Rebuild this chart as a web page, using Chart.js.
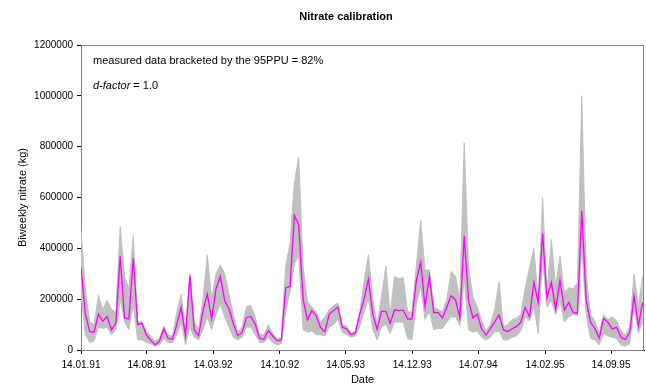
<!DOCTYPE html>
<html>
<head>
<meta charset="utf-8">
<script src="https://cdn.jsdelivr.net/npm/chart.js@4.4.0/dist/chart.umd.min.js"></script>
<style>
  html, body { margin: 0; padding: 0; background: #fff; }
  #wrap { width: 646px; height: 385px; }
</style>
</head>
<body>
<div id="wrap"><canvas id="nitrateChart" width="646" height="385"></canvas></div>
<script>
// ===== NITRATE CALIBRATION =====

// --- DATA ---
// biweekly values (kg), first value on 14.01.91
const START_DATE = '14.01.91';
const STEP_DAYS = 14;

const xTickLabels = ['14.01.91', '14.08.91', '14.03.92', '14.10.92', '14.05.93',
                     '14.12.93', '14.07.94', '14.02.95', '14.09.95'];
const yTickValues = [0, 200000, 400000, 600000, 800000, 1000000, 1200000];

// simulated nitrate (magenta line)
const simulated = [
  325000, 141000, 73000, 70000, 141000, 113000, 132000, 79000, 105000, 369000,
  126000, 122000, 362000, 100000, 105000, 59000, 39000, 20000, 34000, 83000,
  46000, 42000, 100000, 168000, 56000, 292000, 79000, 56000, 154000, 220000,
  122000, 240000, 290000, 194000, 161000, 102000, 56000, 69000, 128000, 131000,
  102000, 47000, 42000, 76000, 56000, 37000, 39000, 244000, 250000, 530000,
  491000, 200000, 118000, 155000, 135000, 89000, 72000, 141000, 155000, 168000,
  89000, 83000, 60000, 67000, 141000, 200000, 279000, 141000, 81000, 152000,
  152000, 105000, 158000, 155000, 157000, 122000, 122000, 272000, 346000, 170000,
  290000, 147000, 147000, 126000, 168000, 214000, 197000, 126000, 449000, 194000,
  126000, 141000, 83000, 59000, 83000, 111000, 138000, 79000, 73000, 83000,
  93000, 109000, 168000, 131000, 266000, 187000, 459000, 204000, 266000, 160000,
  275000, 157000, 187000, 148000, 144000, 548000, 197000, 109000, 85000, 47000,
  124000, 109000, 83000, 89000, 50000, 41000, 69000, 212000, 96000, 187000
];

// 95PPU band, lower edge
const ppuLower = [
  220000, 60000, 30000, 35000, 90000, 85000, 90000, 60000, 80000, 200000,
  110000, 80000, 180000, 40000, 40000, 30000, 25000, 15000, 20000, 45000,
  30000, 30000, 60000, 110000, 20000, 90000, 50000, 40000, 80000, 130000,
  80000, 140000, 180000, 130000, 90000, 50000, 40000, 50000, 90000, 90000,
  60000, 30000, 30000, 50000, 30000, 20000, 25000, 150000, 230000, 340000,
  370000, 80000, 70000, 75000, 60000, 60000, 55000, 90000, 100000, 120000,
  70000, 60000, 50000, 55000, 90000, 150000, 200000, 80000, 40000, 90000,
  100000, 65000, 110000, 110000, 110000, 45000, 40000, 180000, 250000, 120000,
  150000, 80000, 85000, 85000, 110000, 130000, 130000, 95000, 280000, 80000,
  70000, 75000, 50000, 40000, 50000, 70000, 75000, 40000, 40000, 50000,
  55000, 75000, 130000, 115000, 170000, 65000, 360000, 170000, 195000, 140000,
  195000, 110000, 130000, 140000, 135000, 400000, 140000, 45000, 40000, 20000,
  65000, 55000, 50000, 45000, 20000, 15000, 25000, 165000, 65000, 115000
];

// 95PPU band, upper edge
const ppuUpper = [
  470000, 240000, 110000, 100000, 215000, 160000, 195000, 160000, 150000, 485000,
  290000, 240000, 450000, 115000, 110000, 75000, 55000, 35000, 45000, 95000,
  60000, 55000, 150000, 220000, 80000, 300000, 110000, 80000, 200000, 375000,
  200000, 300000, 335000, 300000, 220000, 140000, 70000, 90000, 170000, 175000,
  130000, 60000, 60000, 100000, 65000, 45000, 50000, 330000, 420000, 660000,
  760000, 330000, 190000, 170000, 150000, 110000, 130000, 160000, 175000, 185000,
  100000, 95000, 65000, 75000, 150000, 270000, 375000, 200000, 100000, 210000,
  330000, 140000, 290000, 280000, 285000, 150000, 150000, 330000, 510000, 315000,
  315000, 170000, 160000, 150000, 200000, 310000, 290000, 200000, 815000, 325000,
  210000, 170000, 115000, 75000, 100000, 160000, 270000, 90000, 100000, 120000,
  125000, 140000, 245000, 325000, 400000, 200000, 600000, 220000, 435000, 250000,
  370000, 225000, 245000, 240000, 265000, 1000000, 300000, 140000, 115000, 65000,
  140000, 120000, 130000, 115000, 75000, 60000, 90000, 300000, 170000, 290000
];

// --- HELPERS ---
function parseDay(s) {
  const [d, m, y] = s.split('.').map(Number);
  return Date.UTC(1900 + y, m - 1, d) / 86400000;
}

const day0 = parseDay(START_DATE);
const xTickDays = xTickLabels.map(l => parseDay(l) - day0);
const toPoints = arr => arr.map((v, i) => ({ x: i * STEP_DAYS, y: v }));
const lastDay = (simulated.length - 1) * STEP_DAYS;

const FONT = "'Liberation Sans', Arial, sans-serif";

// title + annotation text + plot frame
const chartText = {
  id: 'chartText',
  beforeDatasetsDraw(chart) {
    const { ctx, chartArea: a } = chart;
    ctx.save();
    ctx.strokeStyle = '#808080';
    ctx.lineWidth = 1;
    ctx.strokeRect(a.left + 0.5, a.top + 0.5, a.right - a.left - 1, a.bottom - a.top);
    ctx.restore();
  },
  afterDraw(chart) {
    const { ctx, chartArea: a } = chart;
    ctx.save();
    ctx.fillStyle = '#000';
    ctx.textBaseline = 'middle';
    ctx.textAlign = 'center';
    ctx.font = 'bold 11px ' + FONT;
    ctx.fillText('Nitrate calibration', 346, 17);

    ctx.textAlign = 'left';
    ctx.font = '11px ' + FONT;
    ctx.fillText('measured data bracketed by the 95PPU = 82%', a.left + 12, 61);
    ctx.font = 'italic 11px ' + FONT;
    ctx.fillText('d-factor', a.left + 12, 86);
    const w = ctx.measureText('d-factor').width;
    ctx.font = '11px ' + FONT;
    ctx.fillText(' = 1.0', a.left + 12 + w, 86);
    ctx.restore();
  }
};

// --- CHART ---
new Chart(document.getElementById('nitrateChart'), {
  type: 'line',
  data: {
    datasets: [
      {
        label: 'simulated',
        data: toPoints(simulated),
        borderColor: '#ff00ff',
        borderWidth: 1.3,
        pointRadius: 0,
        fill: false,
        tension: 0
      },
      {
        label: '95PPU lower',
        data: toPoints(ppuLower),
        borderColor: '#c0c0c0',
        borderWidth: 1,
        pointRadius: 0,
        fill: false,
        tension: 0
      },
      {
        label: '95PPU upper',
        data: toPoints(ppuUpper),
        borderColor: '#c0c0c0',
        backgroundColor: '#c0c0c0',
        borderWidth: 1,
        pointRadius: 0,
        fill: '-1',
        tension: 0
      }
    ]
  },
  options: {
    responsive: false,
    animation: false,
    layout: { padding: { top: 45, right: 2, left: 0, bottom: 0 } },
    plugins: {
      legend: { display: false },
      tooltip: { enabled: false },
      title: { display: false }
    },
    scales: {
      x: {
        type: 'linear',
        min: 0,
        max: lastDay + 4,
        afterFit: s => { s.height = 35; },
        afterBuildTicks: s => { s.ticks = xTickDays.map(v => ({ value: v })); },
        ticks: {
          autoSkip: false,
          maxRotation: 0,
          padding: 5,
          color: '#000',
          font: { family: FONT, size: 10 },
          callback: (v, i) => xTickLabels[i]
        },
        grid: { drawOnChartArea: false, drawTicks: true, tickLength: 4, color: '#000' },
        border: { display: true, color: '#000', width: 1 },
        title: {
          display: true,
          text: 'Date',
          color: '#000',
          font: { family: FONT, size: 11, lineHeight: 1 },
          padding: { top: 0, bottom: 0 }
        }
      },
      y: {
        min: 0,
        max: 1200000,
        afterFit: s => { s.width = 81; },
        afterBuildTicks: s => { s.ticks = yTickValues.map(v => ({ value: v })); },
        ticks: {
          padding: 4,
          color: '#000',
          font: { family: FONT, size: 10 },
          callback: v => String(v)
        },
        grid: { drawOnChartArea: false, drawTicks: true, tickLength: 4, color: '#000' },
        border: { display: true, color: '#000', width: 1 },
        title: {
          display: true,
          text: 'Biweekly nitrate (kg)',
          color: '#000',
          font: { family: FONT, size: 11, lineHeight: 1 },
          padding: { top: 17, bottom: 0 }
        }
      }
    }
  },
  plugins: [chartText]
});
</script>
</body>
</html>
